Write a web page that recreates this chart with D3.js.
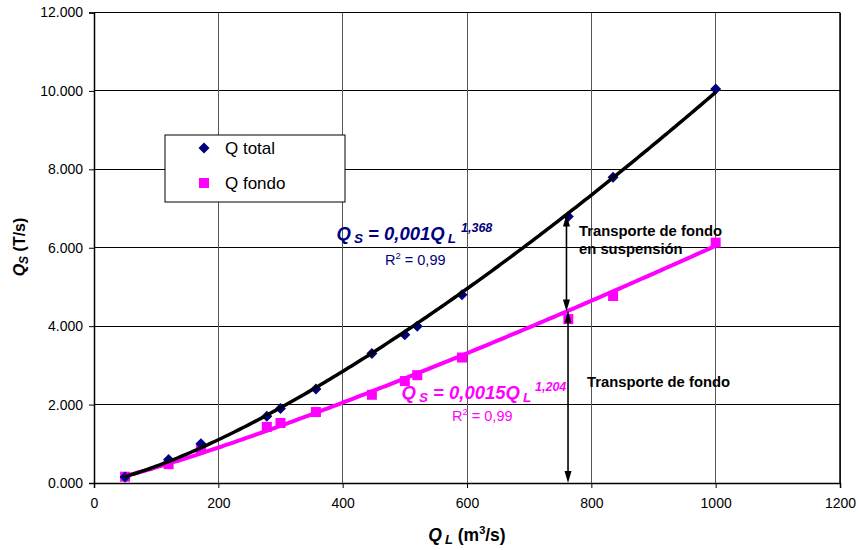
<!DOCTYPE html>
<html><head><meta charset="utf-8">
<script src="https://cdn.jsdelivr.net/npm/d3@7/dist/d3.min.js"></script>
<style>body{margin:0;background:#fff}svg{display:block;font-family:Arial,"Liberation Sans",sans-serif}</style>
</head><body><svg id="c" width="859" height="550"></svg>
<script>
const xValues = [50,120,172,278,300,357,447,500,520,592,763,835,1000];
const qTotal  = [0.15,0.60,1.00,1.70,1.90,2.40,3.30,3.78,4.00,4.80,6.80,7.80,10.05];
const qFondo  = [0.16,0.48,0.88,1.43,1.53,1.81,2.25,2.60,2.75,3.20,4.18,4.77,6.13];
const xTicks = [0,200,400,600,800,1000,1200];
const yTicks = [0,2,4,6,8,10,12];
const seriesNames = ["Q total","Q fondo"];

const svg = d3.select("#c");
const x = d3.scaleLinear().domain([0,1200]).range([94,840]);
const y = d3.scaleLinear().domain([0,12]).range([483,12.5]);

// grid
svg.append("g").selectAll("line").data(yTicks).join("line")
  .attr("x1",x(0)).attr("x2",x(1200)).attr("y1",d=>y(d)).attr("y2",d=>y(d))
  .attr("stroke","#000").attr("stroke-width",1).attr("shape-rendering","crispEdges");
svg.append("g").selectAll("line").data(xTicks).join("line")
  .attr("y1",y(0)).attr("y2",y(12)).attr("x1",d=>x(d)).attr("x2",d=>x(d))
  .attr("stroke","#555").attr("stroke-width",1).attr("shape-rendering","crispEdges");

// axes
const xa = svg.append("g").attr("transform",`translate(0,${y(0)})`)
  .call(d3.axisBottom(x).tickValues(xTicks).tickSize(5).tickPadding(10).tickFormat(d3.format("d")));
const ya = svg.append("g").attr("transform",`translate(${x(0)},0)`)
  .call(d3.axisLeft(y).tickValues(yTicks).tickSize(5).tickPadding(6).tickFormat(d3.format(".3f")));
[xa,ya].forEach(a=>{a.selectAll("text").attr("font-size",14).attr("fill","#000").attr("font-family","Arial, Liberation Sans, sans-serif");
  a.select(".domain").attr("stroke","#000").attr("stroke-width",1.5);
  a.selectAll(".tick line").attr("stroke","#000");});
svg.append("line").attr("x1",x(1200)).attr("x2",x(1200)).attr("y1",y(0)).attr("y2",y(12)).attr("stroke","#000").attr("stroke-width",1.5);

// power fit (least squares in log space)
function powerFit(xs,ys){
  const lx=xs.map(Math.log), ly=ys.map(Math.log);
  const mx=d3.mean(lx), my=d3.mean(ly);
  const b=d3.sum(lx.map((v,i)=>(v-mx)*(ly[i]-my)))/d3.sum(lx.map(v=>(v-mx)*(v-mx)));
  const a=Math.exp(my-b*mx);
  return t=>a*Math.pow(t,b);
}
const fT = powerFit(xValues,qTotal), fF = powerFit(xValues,qFondo);
const xs = d3.range(50,1000.1,5);
const line = f => d3.line().x(d=>x(d)).y(d=>y(f(d)))(xs);

const diamond = "M0,-5.5L5.5,0L0,5.5L-5.5,0Z";
const square = "M-5,-5H5V5H-5Z";

svg.append("g").selectAll("path").data(xValues).join("path")
  .attr("d",square).attr("transform",(d,i)=>`translate(${x(d)},${y(qFondo[i])})`).attr("fill","#ff00ff");
svg.append("g").selectAll("path").data(xValues).join("path")
  .attr("d",diamond).attr("transform",(d,i)=>`translate(${x(d)},${y(qTotal[i])})`).attr("fill","#000080");

svg.append("path").attr("d",line(fF)).attr("fill","none").attr("stroke","#ff00ff").attr("stroke-width",4);
svg.append("path").attr("d",line(fT)).attr("fill","none").attr("stroke","#000").attr("stroke-width",3.5);

// arrows
function dArrow(xv,v1,v2){
  const px=x(xv), ya_=y(v1), yb=y(v2);
  svg.append("line").attr("x1",px).attr("x2",px).attr("y1",ya_+10).attr("y2",yb-10).attr("stroke","#000").attr("stroke-width",1.6);
  svg.append("path").attr("d",`M${px},${ya_}L${px+3.5},${ya_+12}L${px-3.5},${ya_+12}Z`).attr("fill","#000");
  svg.append("path").attr("d",`M${px},${yb}L${px+3.5},${yb-12}L${px-3.5},${yb-12}Z`).attr("fill","#000");
}
dArrow(760,fT(760),fF(760));
dArrow(762.5,fF(762.5),0);

svg.append("text").attr("x",579).attr("y",236).attr("font-size",14.8).attr("font-weight","bold").text("Transporte de fondo");
svg.append("text").attr("x",579).attr("y",254).attr("font-size",14.8).attr("font-weight","bold").text("en suspensión");
svg.append("text").attr("x",587).attr("y",387).attr("font-size",14.8).attr("font-weight","bold").text("Transporte de fondo");

// equations
function eq(x0,y0,col,coef,expo,supX){
  const t=svg.append("text").attr("x",x0).attr("y",y0).attr("fill",col).attr("font-weight","bold").attr("font-style","italic").attr("font-size",18.5);
  t.append("tspan").text("Q");
  t.append("tspan").attr("font-size",13.5).attr("dx",3).attr("dy",3).text("S");
  t.append("tspan").attr("dy",-3).text(" = "+coef+"Q");
  t.append("tspan").attr("font-size",13.5).attr("dx",3).attr("dy",3).text("L");
  svg.append("text").attr("x",supX).attr("y",y0-8.5).attr("fill",col).attr("font-weight","bold").attr("font-style","italic").attr("font-size",12.5).text(expo);
}
eq(336.5,240,"#000080","0,001","1,368",461);
eq(401.5,399,"#ff00ff","0,0015","1,204",535);
function r2(x0,y0,col){
  const t=svg.append("text").attr("x",x0).attr("y",y0).attr("fill",col).attr("font-size",14.5);
  t.append("tspan").text("R");
  t.append("tspan").attr("font-size",9.5).attr("dy",-6).text("2");
  t.append("tspan").attr("dy",6).text(" = 0,99");
}
r2(385,265,"#000080");
r2(452,421,"#ff00ff");

// legend
const lg=svg.append("g");
lg.append("rect").attr("x",165).attr("y",135).attr("width",180).attr("height",67).attr("fill","#fff").attr("stroke","#000").attr("stroke-width",1);
lg.append("path").attr("d",diamond).attr("transform","translate(204,148)").attr("fill","#000080");
lg.append("path").attr("d",square).attr("transform","translate(204,183)").attr("fill","#ff00ff");
lg.append("text").attr("x",225).attr("y",154).attr("font-size",17).text(seriesNames[0]);
lg.append("text").attr("x",225).attr("y",189).attr("font-size",17).text(seriesNames[1]);

// axis titles
const yt=svg.append("text").attr("transform","translate(25,247) rotate(-90)").attr("text-anchor","middle").attr("font-size",16).attr("font-weight","bold");
yt.append("tspan").attr("font-style","italic").text("Q");
yt.append("tspan").attr("font-size",12).attr("font-style","italic").attr("dy",3).text("S");
yt.append("tspan").attr("dy",-3).text(" (T/s)");
const xt=svg.append("text").attr("x",467).attr("y",541).attr("text-anchor","middle").attr("font-size",17.5).attr("font-weight","bold");
xt.append("tspan").attr("font-style","italic").text("Q");
xt.append("tspan").attr("font-size",13).attr("font-style","italic").attr("dx",3).attr("dy",3).text("L");
xt.append("tspan").attr("dy",-3).text(" (m");
xt.append("tspan").attr("font-size",11).attr("dy",-7).text("3");
xt.append("tspan").attr("dy",7).text("/s)");
</script></body></html>
